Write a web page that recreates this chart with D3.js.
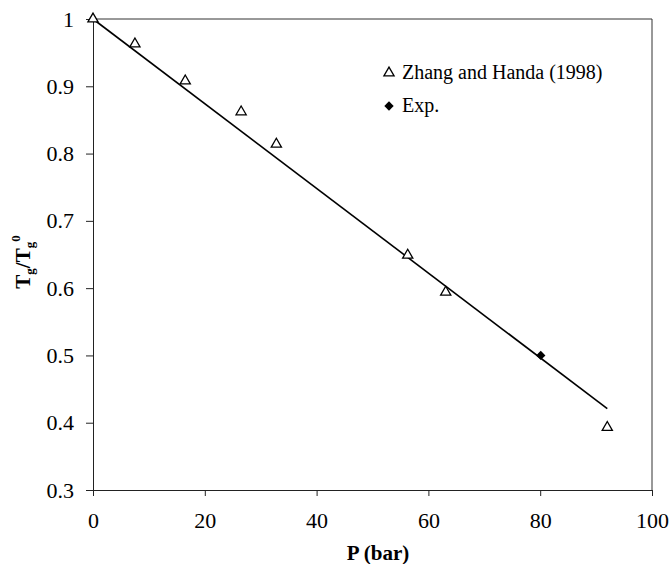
<!DOCTYPE html>
<html>
<head>
<meta charset="utf-8">
<script src="https://cdn.jsdelivr.net/npm/d3@7"></script>
<style>
  body { margin: 0; background: #fff; }
  svg { display: block; }
</style>
</head>
<body>
<div id="chart"></div>
<script>
// ---- data ----
const zhangP = [0, 7.5, 16.5, 26.5, 32.8, 56.3, 63.1, 92.0];
const zhangT = [1.0, 0.963, 0.908, 0.862, 0.814, 0.649, 0.594, 0.393];
const expP = [80.1];
const expT = [0.50];
const fitP = [0, 92];
const fitT = [1.0, 0.421];
const xTicks = [0, 20, 40, 60, 80, 100];
const yTicks = [0.3, 0.4, 0.5, 0.6, 0.7, 0.8, 0.9, 1];
const legendLabels = ["Zhang and Handa (1998)", "Exp."];

const FONT = "'Liberation Serif', 'Times New Roman', Times, 'DejaVu Serif', serif";
const W = 672, H = 564;
const svg = d3.select("#chart").append("svg").attr("width", W).attr("height", H)
  .style("font-family", FONT);

const x = d3.scaleLinear().domain([0, 100]).range([93, 652]);
const y = d3.scaleLinear().domain([0.3, 1]).range([490, 19]);

// frame (top and right)
svg.append("line").attr("x1", x(0)).attr("x2", x(100)).attr("y1", y(1)).attr("y2", y(1))
  .attr("stroke", "#333").attr("stroke-width", 1);
svg.append("line").attr("x1", x(100)).attr("x2", x(100)).attr("y1", y(1)).attr("y2", y(0.3))
  .attr("stroke", "#333").attr("stroke-width", 1);

// axes
const xAxis = d3.axisBottom(x).tickValues(xTicks).tickSize(6).tickPadding(16).tickFormat(d3.format("d"));
const gx = svg.append("g").attr("transform", `translate(0,${y(0.3)})`).call(xAxis);
gx.attr("font-family", null).style("font-family", FONT);
gx.select(".domain").attr("stroke", "#222");
gx.selectAll(".tick line").attr("stroke", "#222");
gx.selectAll(".tick text").attr("font-size", 22).attr("fill", "#000").style("font-family", FONT);

const yAxis = d3.axisLeft(y).tickValues(yTicks).tickSize(7).tickPadding(12).tickFormat(d => d === 1 ? "1" : d3.format(".1f")(d));
const gy = svg.append("g").attr("transform", `translate(${x(0)},0)`).call(yAxis);
gy.attr("font-family", null).style("font-family", FONT);
gy.select(".domain").attr("stroke", "#222");
gy.selectAll(".tick line").attr("stroke", "#222");
gy.selectAll(".tick text").attr("font-size", 22).attr("fill", "#000").style("font-family", FONT);

// fit line
const line = d3.line().x(d => x(d[0])).y(d => y(d[1]));
svg.append("path").datum(d3.zip(fitP, fitT)).attr("d", line)
  .attr("fill", "none").attr("stroke", "#000").attr("stroke-width", 1.6);

// markers
const tri = d3.symbol().type(d3.symbolTriangle).size(45);
const dia = d3.symbol().type(d3.symbolSquare).size(44);

svg.append("g").selectAll("path").data(d3.zip(zhangP, zhangT)).join("path")
  .attr("d", tri)
  .attr("transform", d => `translate(${x(d[0])},${y(d[1])})`)
  .attr("fill", "#fff").attr("stroke", "#000").attr("stroke-width", 1.3);

svg.append("g").selectAll("path").data(d3.zip(expP, expT)).join("path")
  .attr("d", dia)
  .attr("transform", d => `translate(${x(d[0])},${y(d[1])}) rotate(45)`)
  .attr("fill", "#000");

// legend
const lg = svg.append("g");
lg.append("path").attr("d", tri).attr("transform", "translate(389,73)")
  .attr("fill", "#fff").attr("stroke", "#000").attr("stroke-width", 1.3);
lg.append("text").attr("x", 402).attr("y", 79).attr("font-size", 20).text(legendLabels[0]);
lg.append("path").attr("d", dia).attr("transform", "translate(389,106) rotate(45)").attr("fill", "#000");
lg.append("text").attr("x", 402).attr("y", 112).attr("font-size", 20).text(legendLabels[1]);

// axis titles
svg.append("text").attr("x", 378).attr("y", 560).attr("text-anchor", "middle")
  .attr("font-size", 21).attr("font-weight", "bold").text("P (bar)");

const yt = svg.append("text").attr("transform", "translate(30,262) rotate(-90)")
  .attr("text-anchor", "middle").attr("font-size", 21).attr("font-weight", "bold");
yt.append("tspan").text("T");
yt.append("tspan").attr("font-size", 13).attr("dy", 4).text("g");
yt.append("tspan").attr("dy", -4).text("/T");
yt.append("tspan").attr("font-size", 13).attr("dy", 4).text("g");
yt.append("tspan").attr("font-size", 13).attr("dy", -14).text("0");
</script>
</body>
</html>
